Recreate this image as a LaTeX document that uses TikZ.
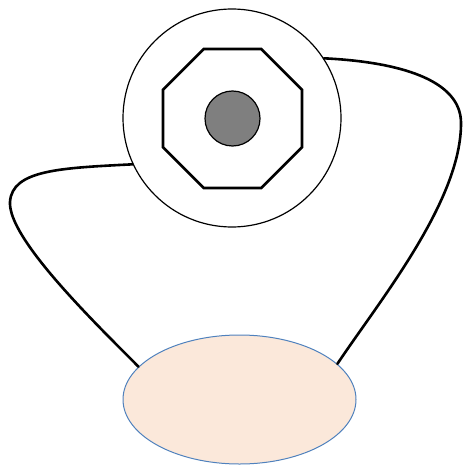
\documentclass[tikz,border=0pt]{standalone}
\usetikzlibrary{shapes.geometric}
\definecolor{peach}{HTML}{FBE8DA}
\definecolor{ellblue}{HTML}{4F81BD}
\definecolor{hubgray}{HTML}{7F7F7F}
\tikzset{
  wire/.style={draw=black, line width=2.6pt, line cap=round},
  outerring/.style={circle, draw=black, fill=white, line width=1.2pt, inner sep=0pt, minimum size=218pt},
  octo/.style={regular polygon, regular polygon sides=8, draw=black, line width=2.6pt, inner sep=0pt, minimum size=150.5pt},
  hub/.style={circle, draw=black, fill=hubgray, line width=1.2pt, inner sep=0pt, minimum size=55pt},
  base/.style={ellipse, draw=ellblue, fill=peach, line width=1pt, inner sep=0pt, minimum width=233pt, minimum height=129pt}
}
\begin{document}
\begin{tikzpicture}[x=1pt, y=-1pt]
\useasboundingbox (0,0) rectangle (463,465);
\node[outerring] (ring) at (232,118) {};
\node[octo] (oct) at (232.5,118.5) {};
\node[hub] (hub) at (232.5,118.5) {};
\node[base] (base) at (239.5,399.5) {};
\coordinate (lc) at (10,202);
\coordinate (rc) at (461,122);
\draw[wire] (ring.205.9) .. controls (60,168) and (12,170) .. (lc)
  .. controls (8,238) and (92,320) .. (base.162.8);
\draw[wire] (ring.33.4) .. controls (400,62) and (460,80) .. (rc)
  .. controls (462,200) and (380,300) .. (base.20.5);
\end{tikzpicture}
\end{document}
